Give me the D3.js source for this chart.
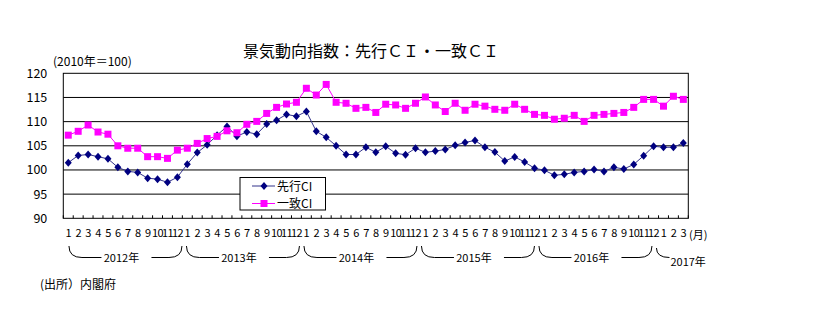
<!DOCTYPE html>
<html><head><meta charset="utf-8">
<script src="https://cdn.jsdelivr.net/npm/d3@7"></script>
<style>
body{margin:0;background:#fff;}
text{font-family:"Noto Sans CJK JP","Noto Sans",sans-serif;fill:#000;}
</style></head>
<body><svg id="c" width="821" height="330"></svg>
<script>
// ---- data ----
const months = [1,2,3,4,5,6,7,8,9,10,11,12, 1,2,3,4,5,6,7,8,9,10,11,12, 1,2,3,4,5,6,7,8,9,10,11,12,
                1,2,3,4,5,6,7,8,9,10,11,12, 1,2,3,4,5,6,7,8,9,10,11,12, 1,2,3];
const years = ["2012年","2013年","2014年","2015年","2016年","2017年"];
const leadingCI = [101.5,103.0,103.2,102.75,102.3,100.55,99.7,99.5,98.3,98.1,97.45,98.5,
                   101.2,103.6,105.2,107.2,109.0,107.0,107.85,107.4,109.5,110.3,111.5,111.1,
                   112.1,108.0,106.75,105.0,103.2,103.2,104.7,103.65,104.9,103.45,103.15,104.5,
                   103.65,103.9,104.25,105.1,105.7,106.1,104.7,103.7,101.85,102.7,101.65,100.35,
                   99.95,98.9,99.1,99.5,99.7,100.1,99.7,100.55,100.2,101.15,102.95,104.9,
                   104.7,104.7,105.6];
const coincidentCI = [107.2,108.0,109.3,107.85,107.4,105.0,104.5,104.5,102.75,102.75,102.4,104.1,
                      104.5,105.5,106.5,106.95,108.1,107.7,109.45,110.05,111.7,112.95,113.65,114.0,
                      116.9,115.5,117.7,114.0,113.8,112.75,112.95,111.9,113.6,113.45,112.75,113.8,
                      115.1,113.45,112.1,113.8,112.35,113.6,113.2,112.55,112.35,113.6,112.55,111.5,
                      111.3,110.5,110.7,111.3,110.05,111.3,111.5,111.7,111.9,112.95,114.6,114.6,
                      113.2,115.25,114.6];
const yTicks = [90,95,100,105,110,115,120];
const seriesNames = ["先行CI","一致CI"];
const colors = ["#000080","#FF00FF"];
const title = "景気動向指数：先行ＣＩ・一致ＣＩ";
const unitLabel = "(2010年＝100)";
const source = "(出所）内閣府";

// ---- layout ----
const svg = d3.select("#c");
svg.append("rect").attr("width",821).attr("height",330).attr("fill","#fff");
const L = 63.3, R = 688.3, T = 73.3, B = 218.3;
const idx = d3.range(months.length);
const x = d3.scaleBand().domain(idx).range([L,R]).padding(0);
const bw = x.bandwidth();
const cx = i => x(i) + bw/2;
const y = d3.scaleLinear().domain([90,120]).range([B,T]);

// title
svg.append("text").attr("x",371).attr("y",57).attr("text-anchor","middle")
  .attr("font-size","16px").text(title);
svg.append("text").attr("x",53).attr("y",65.5).attr("font-size","12px").text(unitLabel);

// gridlines
svg.append("g").selectAll("line").data(yTicks.filter(v=>v>90 && v<120)).join("line")
  .attr("x1",L).attr("x2",R).attr("y1",d=>y(d)).attr("y2",d=>y(d))
  .attr("stroke","#000").attr("stroke-width",1);
svg.append("rect").attr("x",L).attr("y",T).attr("width",R-L).attr("height",B-T)
  .attr("fill","none").attr("stroke","#000").attr("stroke-width",1);

// y axis labels
const ya = svg.append("g").attr("transform",`translate(${L},0)`)
  .call(d3.axisLeft(y).tickValues(yTicks).tickSize(0).tickPadding(16));
ya.select(".domain").remove();
ya.selectAll("text").attr("font-size","12.5px").attr("font-family",'"Noto Sans CJK JP",sans-serif').attr("fill","#000");

// bottom minor ticks at month boundaries
svg.append("g").selectAll("line").data(d3.range(months.length+1)).join("line")
  .attr("x1",d=>L+d*bw).attr("x2",d=>L+d*bw).attr("y1",B-3).attr("y2",B)
  .attr("stroke","#000").attr("stroke-width",1);

// month labels via axis
const xa = svg.append("g").attr("transform",`translate(0,${B})`)
  .call(d3.axisBottom(x).tickSize(0).tickPadding(11).tickFormat(i=>months[i]));
xa.select(".domain").remove();
xa.selectAll("text").attr("font-size","11px").attr("font-family",'"Noto Sans CJK JP",sans-serif')
  .attr("fill","#000").attr("letter-spacing","-0.6px");
svg.append("text").attr("x",689).attr("y",239).attr("font-size","11px").text("(月)");

// year braces
const bs = d3.scaleLinear().domain([0,60]).range([cx(0)+0.2, cx(0)+0.2+587.5]);
const yTop = 246, yBot = 257.5, r = 13;
years.forEach((yr,k)=>{
  const g = svg.append("g").attr("fill","none").attr("stroke","#000").attr("stroke-width",1);
  const x0 = bs(12*k)+0.5;
  if (k < years.length-1) {
    const x1 = bs(12*k+12) - 4;
    const tc = (x0+x1)/2 - 4;
    g.append("path").attr("d",`M${x0},${yTop} Q${x0},${yBot} ${x0+r},${yBot} H${tc-20}`);
    g.append("path").attr("d",`M${tc+30},${yBot} H${x1-r} Q${x1},${yBot} ${x1},${yTop}`);
    svg.append("text").attr("x",tc).attr("y",262).attr("text-anchor","middle")
      .attr("font-size","11px").text(yr);
  } else {
    g.append("path").attr("d",`M${x0},${yTop+2} Q${x0},${yBot} ${x0+r},${yBot}`);
    svg.append("text").attr("x",x0+14).attr("y",266).attr("font-size","11px").text(yr);
  }
});

// lines
const series = [leadingCI, coincidentCI];
const line = d3.line().x((d,i)=>cx(i)).y(d=>y(d));
const diamond = (px,py)=>`M${px},${py-4}L${px+3.5},${py}L${px},${py+4}L${px-3.5},${py}Z`;
const square = (px,py)=>`M${px-3.5},${py-3.5}h7v7h-7Z`;

// draw coincident first? In reference, pink squares appear over blue line at overlap
[0,1].forEach(s=>{
  svg.append("path").datum(series[s]).attr("d",line).attr("fill","none")
    .attr("stroke",s===0?"#33338a":colors[1]).attr("stroke-width",1);
});
svg.append("g").selectAll("path").data(leadingCI).join("path")
  .attr("d",(d,i)=>diamond(cx(i),y(d))).attr("fill",colors[0]);
svg.append("g").selectAll("path").data(coincidentCI).join("path")
  .attr("d",(d,i)=>square(cx(i),y(d))).attr("fill",colors[1]);

// legend
const lg = svg.append("g");
lg.append("rect").attr("x",240).attr("y",177.5).attr("width",85.5).attr("height",32.5)
  .attr("fill","#fff").attr("stroke","#000").attr("stroke-width",1);
[186,203.5].forEach((ly,s)=>{
  lg.append("line").attr("x1",252).attr("x2",275).attr("y1",ly).attr("y2",ly)
    .attr("stroke",s===0?"#33338a":colors[1]).attr("stroke-width",1);
  lg.append("path").attr("d",s===0?diamond(264,ly):square(264,ly)).attr("fill",colors[s]);
  lg.append("text").attr("x",277).attr("y",ly+4.5).attr("font-size","12px").text(seriesNames[s]);
});

// source
svg.append("text").attr("x",40).attr("y",289).attr("font-size","12px").text(source);
</script></body></html>
